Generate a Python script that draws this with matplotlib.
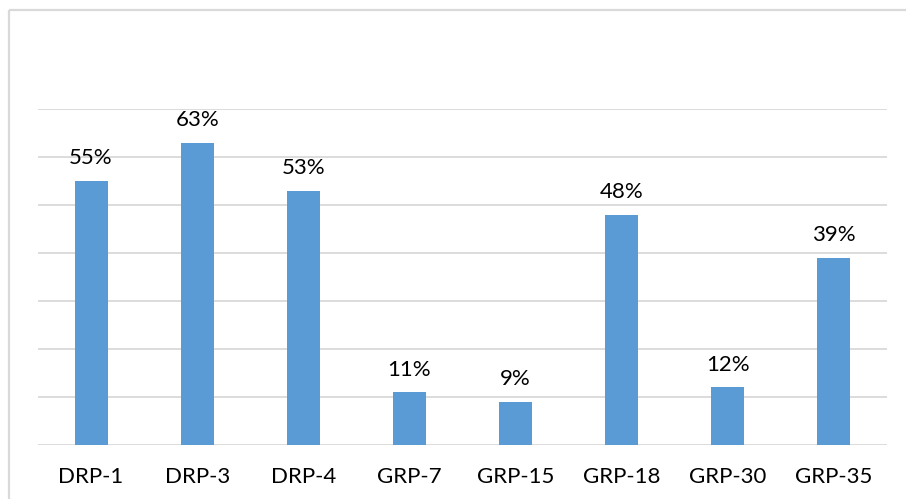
import matplotlib
matplotlib.use("Agg")
import matplotlib.pyplot as plt
from matplotlib.patches import Rectangle

categories = ["DRP-1", "DRP-3", "DRP-4", "GRP-7", "GRP-15", "GRP-18", "GRP-30", "GRP-35"]
values = [55, 63, 53, 11, 9, 48, 12, 39]
labels = ["55%", "63%", "53%", "11%", "9%", "48%", "12%", "39%"]

W, H = 906, 499
fig = plt.figure(figsize=(W / 100, H / 100), dpi=100)
plt.rcParams['font.family'] = ['Lato', 'DejaVu Sans']

# outer chart border (light gray), running off right/bottom edges
fig.patches.append(Rectangle((9 / W, 1 - 10 / H), 2, -2, transform=fig.transFigure,
                             fill=False, edgecolor="#d9d9d9", linewidth=1.6))

ax = fig.add_axes([38 / W, 1 - 445 / H, (887 - 38) / W, (445 - 109) / H])
x = list(range(len(categories)))
ax.bar(x, values, width=0.31, color="#5B9BD5", zorder=3)
ax.set_xlim(-0.5, len(categories) - 0.5)
ax.set_ylim(0, 70)
ax.set_yticks(range(0, 71, 10))
ax.set_yticklabels([])
ax.tick_params(axis='y', length=0)
ax.grid(axis='y', color="#d9d9d9", linewidth=1.3, zorder=0)
ax.set_axisbelow(True)
for s in ax.spines.values():
    s.set_visible(False)
ax.set_xticks(x)
ax.set_xticklabels(categories, fontsize=16, color="black")
ax.tick_params(axis='x', length=0, pad=16)

for xi, v, lab in zip(x, values, labels):
    ax.annotate(lab, (xi, v), xytext=(0, 9), textcoords="offset points",
                ha="center", va="bottom", fontsize=16, color="black")

fig.savefig("out.png", dpi=100)
